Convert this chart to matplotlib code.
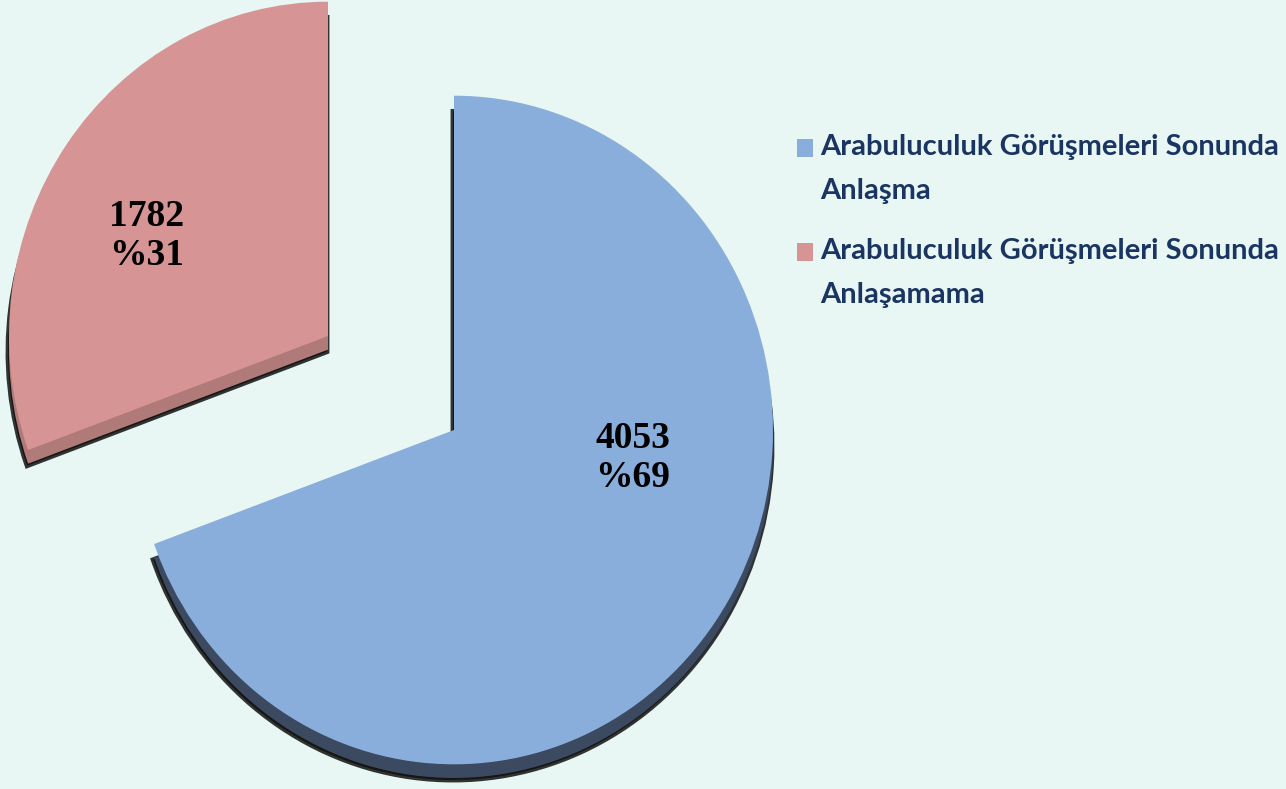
import numpy as np
from matplotlib import pyplot as plt
from matplotlib.patches import Rectangle

# Arabuluculuk sonuçları
labels = ['Arabuluculuk Görüşmeleri Sonunda\nAnlaşma',
          'Arabuluculuk Görüşmeleri Sonunda\nAnlaşamama']
values = np.array([4053, 1782])
percents = ['%69', '%31']
top_colors = ['#8aaedb', '#d69594']
side_colors = ['#3b4a60', '#b07a78']

W, H = 1286, 789
k = 1.048  # пирог чуть вытянут по вертикали


def py(p):
    # пиксель сверху -> координата данных
    return (H - p) / k


fig = plt.figure(figsize=(W / 100, H / 100), dpi=100)
fig.patch.set_facecolor('#e8f7f4')
ax = fig.add_axes([0, 0, 1, 1])
ax.axis('off')

r = 319
# центры кусков: синий на месте, красный выдвинут влево-вверх
centers = [(454, py(430)), (328, py(336))]


def draw_slice(i, dx, dy, colors, **wp):
    ws, _ = ax.pie(values, radius=r, center=(centers[i][0] + dx, centers[i][1] + dy),
                   startangle=90, counterclock=False, colors=colors, wedgeprops=wp)
    for j, w in enumerate(ws):
        if j != i:
            w.set_visible(False)
    return ws[i]


# тень и боковая грань
for i in range(2):
    draw_slice(i, -1, -15, ['#111111'] * 2, edgecolor='#111111', linewidth=3.5, alpha=0.85)
    draw_slice(i, 0, -13, side_colors, linewidth=0)

# верхняя грань
wedges = [draw_slice(i, 0, 0, top_colors, linewidth=0) for i in range(2)]

ax.set_aspect('auto')
ax.set_xlim(0, W)
ax.set_ylim(0, H / k)

# подписи
label_pos = [(633, 458), (147, 236)]
for (x, y), v, p in zip(label_pos, values, percents):
    ax.text(x, py(y), '{}\n{}'.format(v, p), ha='center', va='center',
            fontsize=27, fontweight='bold', family='Liberation Serif',
            color='black', linespacing=1.15)

# легенда: квадрат у первой строки
leg_y = [148, 252]
for y, lab, c in zip(leg_y, labels, top_colors):
    fig.patches.append(Rectangle((797 / W, 1 - (y + 9) / H), 16 / W, 18 / H,
                                 transform=fig.transFigure, facecolor=c,
                                 edgecolor='none'))
    fig.text(820 / W, 1 - (y + 21) / H, lab, ha='left', va='center',
             family='Lato', fontweight='bold', fontsize=21, color='#1b3563',
             linespacing=1.84)

fig.savefig('out.png', dpi=100, facecolor=fig.get_facecolor())
